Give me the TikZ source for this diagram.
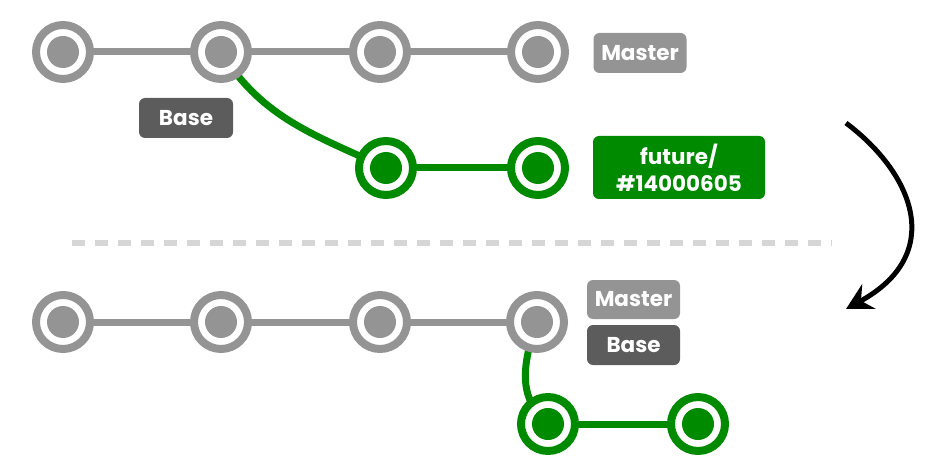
\documentclass[tikz,border=0pt]{standalone}
\usepackage{fontspec}
\newfontfamily\labfont{Poppins}
\usetikzlibrary{arrows.meta,backgrounds}
\definecolor{cgray}{RGB}{148,148,148}
\definecolor{cdark}{RGB}{92,92,92}
\definecolor{cgreen}{RGB}{0,138,0}
\definecolor{cdash}{RGB}{214,214,214}
\tikzset{
  commit/.style={circle, draw=#1, line width=8pt, fill=white, minimum size=54pt, inner sep=0pt,
    path picture={\fill[#1] (path picture bounding box.center) circle (16pt);}},
  tag/.style={rounded corners=6pt, fill=#1, text=white, font=\labfont\bfseries\fontsize{21.5}{23}\selectfont,
    inner sep=0pt, align=center},
  glink/.style={draw=cgray, line width=7pt},
  grlink/.style={draw=cgreen, line width=7pt},
}
\begin{document}
\begin{tikzpicture}[x=1pt,y=-1pt]
\useasboundingbox (0,0) rectangle (942,465);
% top row
\node[commit=cgray] (a1) at (63,52) {};
\node[commit=cgray] (a2) at (221,52) {};
\node[commit=cgray] (a3) at (380,52) {};
\node[commit=cgray] (a4) at (538,52) {};
\node[commit=cgreen] (f1) at (386,168) {};
\node[commit=cgreen] (f2) at (538,168) {};
\node[tag=cgray, minimum width=93pt, minimum height=40pt] (mtop) at (640,53) {Master};
\node[tag=cdark, minimum width=94pt, minimum height=40pt] (btop) at (186,118) {Base};
\node[tag=cgreen, minimum width=172pt, minimum height=63pt] (ftag) at (679,167.5) {future/\\[4pt]\#14000605};
% bottom row
\node[commit=cgray] (b1) at (63,322) {};
\node[commit=cgray] (b2) at (221,322) {};
\node[commit=cgray] (b3) at (380,322) {};
\node[commit=cgray] (b4) at (537,322) {};
\node[commit=cgreen] (g1) at (548,424) {};
\node[commit=cgreen] (g2) at (698,424) {};
\node[tag=cgray, minimum width=93pt, minimum height=39pt] (mbot) at (633.5,299.5) {Master};
\node[tag=cdark, minimum width=93pt, minimum height=40pt] (bbot) at (633.5,345) {Base};
\begin{scope}[on background layer]
\draw[glink] (a1.center) -- (a2.center) -- (a3.center) -- (a4.center);
\draw[grlink] (a2.center) to[out=-58,in=155] (f1.center);
\draw[grlink] (f1.center) -- (f2.center);
\draw[glink] (b1.center) -- (b2.center) -- (b3.center) -- (b4.center);
\draw[grlink] (b4.center) .. controls (520,370) and (520,400) .. (g1.center);
\draw[grlink] (g1.center) -- (g2.center);
\end{scope}
% separator
\coordinate (s1) at (72,243);
\coordinate (s2) at (832,243);
\draw[cdash, line width=6pt, dash pattern=on 13pt off 10pt] (s1) -- (s2);
% arrow
\coordinate (r1) at (846,123);
\coordinate (r2) at (846,309);
\draw[line width=5pt, -{Stealth[length=26pt,width=28pt,inset=9pt]}] (r1) .. controls (915,175) and (945,255) .. (r2);
\end{tikzpicture}
\end{document}
